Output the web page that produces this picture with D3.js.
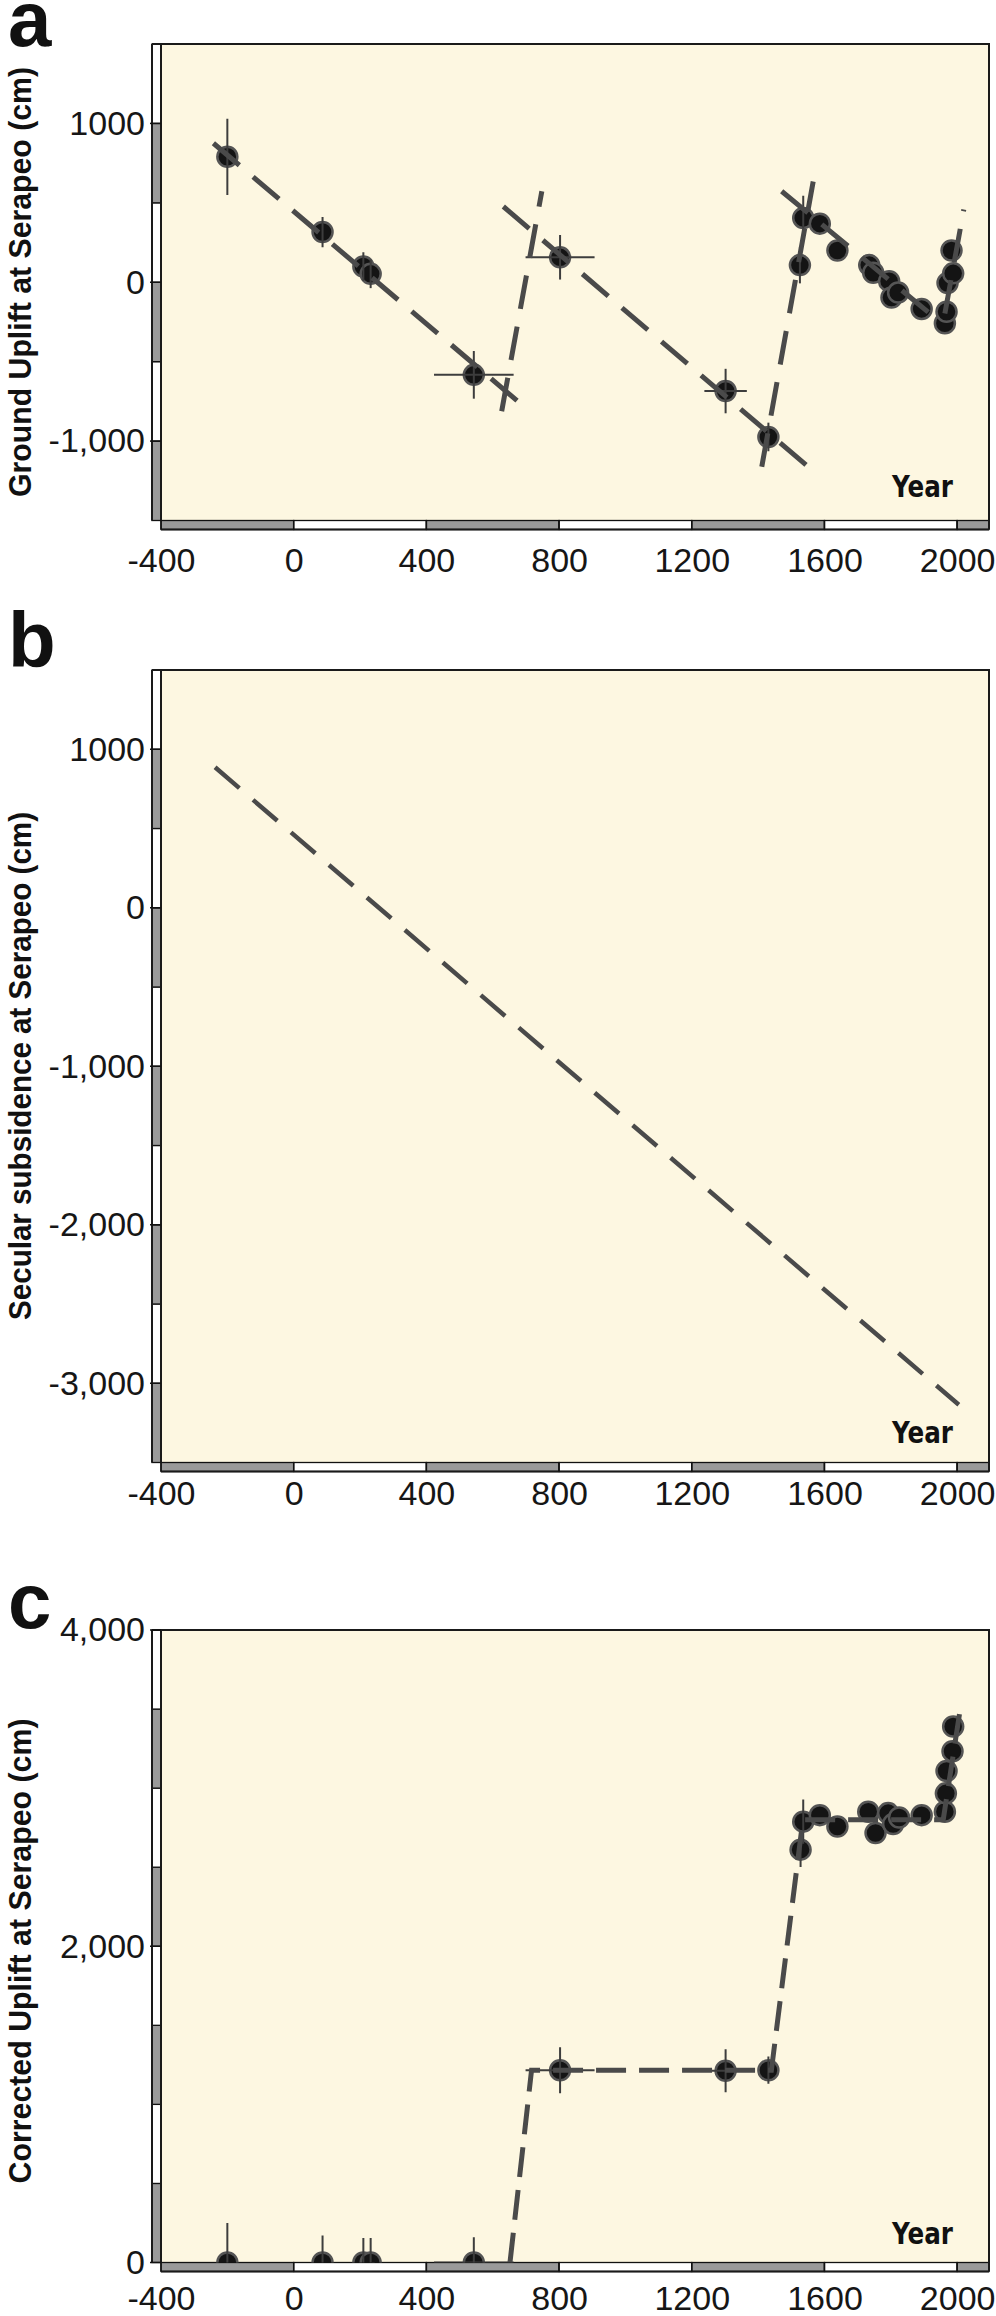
<!DOCTYPE html>
<html><head><meta charset="utf-8">
<script src="https://cdn.jsdelivr.net/npm/d3@7"></script>
<style>body{margin:0;background:#fff;} svg{display:block;}</style>
</head><body>
<svg id="chart" width="996" height="2316"></svg>
<script>
// ---------------- DATA ----------------
const xTickValues = [-400, 0, 400, 800, 1200, 1600, 2000];
const xTickLabels = ["-400", "0", "400", "800", "1200", "1600", "2000"];

// Panel a : ground uplift
const yearsA   = [-200, 87, 210, 232, 543, 803, 1302, 1431, 1526, 1536, 1586, 1639, 1735, 1747, 1795, 1802, 1822, 1893, 1963, 1968, 1971, 1988, 1983];
const upliftA  = [790, 316, 99, 53, -583, 157, -685, -974, 108, 405, 369, 200, 108, 60, 7, -96, -65, -168, -258, -186, -5, 56, 200];
const errUpA   = [240, 95, 90, 90, 150, 140, 140, 90, 115, 140, 0, 0, 0, 0, 0, 0, 0, 0, 0, 0, 0, 0, 0];
const errYrA   = [0, 0, 0, 0, 120, 104, 64, 0, 0, 0, 0, 0, 0, 0, 0, 0, 0, 0, 0, 0, 0, 0, 0];
const fitYearsA  = [[-242, 677], [627, 748], [632, 1551], [1411, 1566], [1471, 1953], [1963, 2020]];
const fitValuesA = [[875, -752], [-812, 573], [477, -1162], [-1162, 634], [573, -258], [-197, 458]];
const yTicksA  = [1000, 0, -1000];
const yLabelsA = ["1000", "0", "-1,000"];

// Panel b : secular subsidence
const subsYears  = [-237, 2005];
const subsValues = [886, -3136];
const yTicksB  = [1000, 0, -1000, -2000, -3000];
const yLabelsB = ["1000", "0", "-1,000", "-2,000", "-3,000"];

// Panel c : corrected uplift
const yearsC     = [-200, 87, 210, 232, 543, 803, 1302, 1431, 1528, 1536, 1586, 1639, 1732, 1754, 1792, 1807, 1825, 1893, 1963, 1966, 1968, 1986, 1988];
const correctedC = [0, 0, 0, 0, 0, 1216, 1213, 1216, 2611, 2788, 2829, 2757, 2851, 2716, 2842, 2773, 2814, 2829, 2851, 2967, 3108, 3233, 3390];
const errUpC     = [250, 170, 155, 155, 160, 145, 136, 86, 110, 140, 0, 0, 0, 0, 0, 0, 0, 0, 0, 0, 0, 0, 0];
const errYrC     = [0, 0, 0, 0, 120, 104, 64, 0, 0, 0, 0, 0, 0, 0, 0, 0, 0, 0, 0, 0, 0, 0, 0];
const stepYears  = [652, 717, 1440, 1535, 1958, 2013];
const stepValues = [0, 1216, 1216, 2800, 2800, 3550];
const yTicksC  = [4000, 2000, 0];
const yLabelsC = ["4,000", "2,000", "0"];

// ---------------- LAYOUT ----------------
const svg = d3.select("#chart");
const LEFT = 161, RIGHT = 989, BAND = 9;
const BG = "#FDF7E1", GRAY = "#9a9a9a", LINE = "#4a4a4a";
const x = d3.scaleLinear().domain([-400, 2096]).range([LEFT, RIGHT]);

function panel(cfg) {
  const g = svg.append("g");
  const y = d3.scaleLinear().domain(cfg.yDomain).range([cfg.bottom, cfg.top]);
  const id = "clip" + cfg.letter;
  svg.append("defs").append("clipPath").attr("id", id)
    .append("rect").attr("x", LEFT).attr("y", cfg.top).attr("width", RIGHT - LEFT).attr("height", cfg.bottom - cfg.top);

  g.append("rect").attr("x", LEFT).attr("y", cfg.top).attr("width", RIGHT - LEFT)
    .attr("height", cfg.bottom - cfg.top).attr("fill", BG);

  const [y0, y1] = cfg.yDomain;
  const ySegs = d3.range(y0, y1, 500).map((v, i) => ({a: v, b: Math.min(v + 500, y1), gray: i % 2 === 0}));
  g.selectAll(".yb").data(ySegs).join("rect")
    .attr("x", LEFT - BAND).attr("width", BAND)
    .attr("y", d => y(d.b)).attr("height", d => y(d.a) - y(d.b))
    .attr("fill", d => d.gray ? GRAY : "#fff").attr("stroke", "#111").attr("stroke-width", 1.3);

  const xMax = x.domain()[1];
  const xSegs = d3.range(-400, xMax, 400).map((v, i) => ({a: v, b: Math.min(v + 400, xMax), gray: i % 2 === 0}));
  g.selectAll(".xb").data(xSegs).join("rect")
    .attr("y", cfg.bottom).attr("height", BAND)
    .attr("x", d => x(d.a)).attr("width", d => x(d.b) - x(d.a))
    .attr("fill", d => d.gray ? GRAY : "#fff").attr("stroke", "#111").attr("stroke-width", 1.3);

  g.append("path").attr("fill", "none").attr("stroke", "#1a1a1a").attr("stroke-width", 2)
    .attr("d", `M${LEFT - BAND},${cfg.top}H${RIGHT}V${cfg.bottom + BAND}`);
  g.append("line").attr("x1", LEFT).attr("x2", LEFT).attr("y1", cfg.top).attr("y2", cfg.bottom)
    .attr("stroke", "#1a1a1a").attr("stroke-width", 2);
  g.append("line").attr("x1", LEFT - BAND).attr("x2", LEFT - BAND).attr("y1", cfg.top).attr("y2", cfg.bottom)
    .attr("stroke", "#1a1a1a").attr("stroke-width", 2);
  g.append("line").attr("x1", LEFT).attr("x2", RIGHT).attr("y1", cfg.bottom + BAND).attr("y2", cfg.bottom + BAND)
    .attr("stroke", "#1a1a1a").attr("stroke-width", 2);

  const ya = g.append("g").attr("transform", `translate(${LEFT - BAND},0)`)
    .call(d3.axisLeft(y).tickValues(cfg.yTicks).tickFormat((d, i) => cfg.yLabels[i]).tickSize(0).tickPadding(7));
  ya.select(".domain").remove();
  ya.selectAll("text").attr("font-family", "'Liberation Sans', Arial, sans-serif").attr("font-size", 34).attr("fill", "#161616");
  g.selectAll(".ytk").data(cfg.yTicks).join("line")
    .attr("x1", LEFT - BAND - 2).attr("x2", LEFT).attr("y1", d => y(d)).attr("y2", d => y(d))
    .attr("stroke", "#111").attr("stroke-width", 1.5);

  const xa = g.append("g").attr("transform", `translate(0,${cfg.bottom + BAND})`)
    .call(d3.axisBottom(x).tickValues(xTickValues).tickFormat((d, i) => xTickLabels[i]).tickSize(0).tickPadding(cfg.xPad));
  xa.select(".domain").remove();
  xa.selectAll("text").attr("font-family", "'Liberation Sans', Arial, sans-serif").attr("font-size", 34).attr("fill", "#161616");
  g.selectAll(".xtk").data(xTickValues).join("line")
    .attr("y1", cfg.bottom).attr("y2", cfg.bottom + BAND).attr("x1", d => x(d)).attr("x2", d => x(d))
    .attr("stroke", "#111").attr("stroke-width", 1.5);

  g.append("text").attr("transform", `translate(31,${cfg.titleY}) rotate(-90)`)
    .attr("text-anchor", "middle").attr("font-family", "'Liberation Sans Narrow', 'Liberation Sans', Arial, sans-serif")
    .attr("font-weight", "bold").attr("font-size", 32).attr("fill", "#111")
    .attr("textLength", cfg.titleLen).attr("lengthAdjust", "spacingAndGlyphs").text(cfg.title);

  g.append("text").attr("x", 953).attr("y", cfg.yearY).attr("text-anchor", "end")
    .attr("font-family", "'DejaVu Sans', Verdana, sans-serif").attr("font-weight", "bold").attr("font-size", 30)
    .attr("fill", "#111").attr("textLength", 61).attr("lengthAdjust", "spacingAndGlyphs").text("Year");

  g.append("text").attr("x", 8).attr("y", cfg.letterY).attr("font-family", "'Liberation Sans', Arial, sans-serif")
    .attr("font-weight", "bold").attr("font-size", 78).attr("fill", "#111").text(cfg.letter);

  const plot = g.append("g").attr("clip-path", `url(#${id})`);
  return {y, plot};
}

function drawPoints(plot, y, years, vals, errV, errX) {
  const pts = years.map((yr, i) => ({yr, v: vals[i], ev: errV[i], ex: errX[i]}));
  plot.selectAll(".pt").data(pts).join("circle")
    .attr("cx", d => x(d.yr)).attr("cy", d => y(d.v)).attr("r", 10)
    .attr("fill", "#141414").attr("stroke", "#555").attr("stroke-width", 2.5);
  plot.selectAll(".ev").data(pts.filter(d => d.ev > 0)).join("line")
    .attr("x1", d => x(d.yr)).attr("x2", d => x(d.yr))
    .attr("y1", d => y(d.v + d.ev)).attr("y2", d => y(d.v - d.ev))
    .attr("stroke", "#3d3d3d").attr("stroke-width", 2);
  plot.selectAll(".ex").data(pts.filter(d => d.ex > 0)).join("line")
    .attr("y1", d => y(d.v)).attr("y2", d => y(d.v))
    .attr("x1", d => x(d.yr - d.ex)).attr("x2", d => x(d.yr + d.ex))
    .attr("stroke", "#3d3d3d").attr("stroke-width", 2);
}

// Panel a
{
  const {y, plot} = panel({letter: "a", letterY: 46, top: 44, bottom: 520.5, yDomain: [-1500, 1500], xPad: 18,
    yTicks: yTicksA, yLabels: yLabelsA, title: "Ground Uplift at Serapeo (cm)", titleY: 282, titleLen: 430, yearY: 497});
  drawPoints(plot, y, yearsA, upliftA, errUpA, errYrA);
  const line = d3.line().x(d => x(d[0])).y(d => y(d[1]));
  plot.selectAll(".fit").data(fitYearsA.map((ys, i) => ys.map((yr, j) => [yr, fitValuesA[i][j]])))
    .join("path").attr("d", line).attr("fill", "none").attr("stroke", LINE).attr("stroke-width", 5)
    .attr("stroke-dasharray", "34 18");
}

// Panel b
{
  const {y, plot} = panel({letter: "b", letterY: 667, top: 670, bottom: 1462.5, yDomain: [-3500, 1500], xPad: 9,
    yTicks: yTicksB, yLabels: yLabelsB, title: "Secular subsidence at Serapeo (cm)", titleY: 1066, titleLen: 508, yearY: 1443});
  const line = d3.line().x(d => x(d[0])).y(d => y(d[1]));
  plot.append("path").datum(subsYears.map((yr, i) => [yr, subsValues[i]])).attr("d", line)
    .attr("fill", "none").attr("stroke", LINE).attr("stroke-width", 4.5).attr("stroke-dasharray", "32 18");
}

// Panel c
{
  const {y, plot} = panel({letter: "c", letterY: 1628, top: 1630, bottom: 2262.5, yDomain: [0, 4000], xPad: 14,
    yTicks: yTicksC, yLabels: yLabelsC, title: "Corrected Uplift at Serapeo (cm)", titleY: 1951, titleLen: 465, yearY: 2244});
  drawPoints(plot, y, yearsC, correctedC, errUpC, errYrC);
  const line = d3.line().x(d => x(d[0])).y(d => y(d[1]));
  plot.append("path").datum(stepYears.map((yr, i) => [yr, stepValues[i]])).attr("d", line)
    .attr("fill", "none").attr("stroke", LINE).attr("stroke-width", 5).attr("stroke-dasharray", "30 13");
}
</script>
</body></html>
